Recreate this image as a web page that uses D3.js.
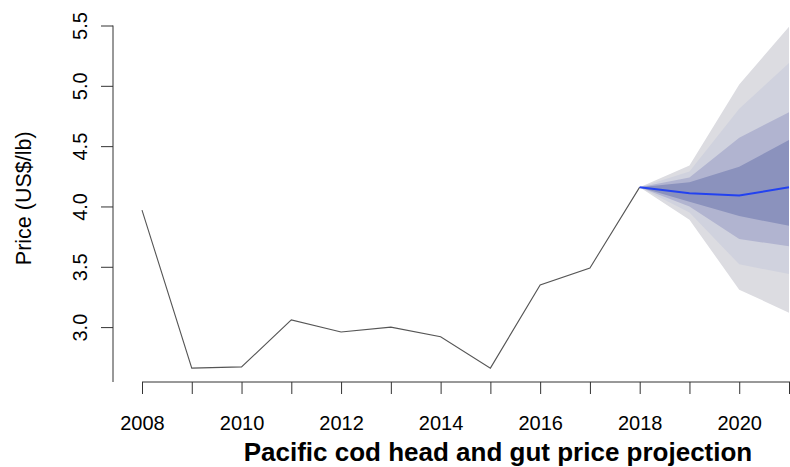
<!DOCTYPE html>
<html>
<head>
<meta charset="utf-8">
<script src="https://cdn.jsdelivr.net/npm/d3@7/dist/d3.min.js"></script>
<style>
  html, body { margin: 0; padding: 0; background: #ffffff; }
  svg { display: block; font-family: "Liberation Sans", Arial, Helvetica, sans-serif; }
</style>
</head>
<body>
<svg id="chart" width="790" height="467"></svg>
<script>
// ---- Data ----
const histYears  = [2008, 2009, 2010, 2011, 2012, 2013, 2014, 2015, 2016, 2017, 2018];
const histPrices = [3.97, 2.66, 2.67, 3.06, 2.96, 3.00, 2.92, 2.66, 3.35, 3.49, 4.16];

const fcYears  = [2018, 2019, 2020, 2021];
const fcMedian = [4.16, 4.11, 4.09, 4.16];
// band bounds (outer -> inner)
const upper95 = [4.16, 4.34, 5.01, 5.49];
const upper80 = [4.16, 4.29, 4.81, 5.19];
const upper60 = [4.16, 4.24, 4.57, 4.78];
const upper40 = [4.16, 4.20, 4.33, 4.55];
const lower40 = [4.16, 4.04, 3.92, 3.84];
const lower60 = [4.16, 4.00, 3.73, 3.67];
const lower80 = [4.16, 3.95, 3.52, 3.44];
const lower95 = [4.16, 3.89, 3.31, 3.12];

const xTicks = [2008, 2009, 2010, 2011, 2012, 2013, 2014, 2015, 2016, 2017, 2018, 2019, 2020, 2021];
const xTickLabels = [2008, 2010, 2012, 2014, 2016, 2018, 2020];
const yTicks = [3.0, 3.5, 4.0, 4.5, 5.0, 5.5];

const yLabel = "Price (US$/lb)";
const xTitle = "Pacific cod head and gut price projection";

// ---- Scales ----
const svg = d3.select("#chart");
const x = d3.scaleLinear().domain([2008, 2021]).range([142, 789]);
const y = d3.scaleLinear().domain([2.545, 5.5]).range([382, 25.5]);

// ---- Fan bands ----
const bandColors = ["#dcdce1", "#d0d2de", "#b1b4d0", "#8b92bd"];
const bands = [
  [upper95, lower95],
  [upper80, lower80],
  [upper60, lower60],
  [upper40, lower40]
];
const area = d3.area()
  .x((d) => x(d.yr))
  .y0((d) => y(d.lo))
  .y1((d) => y(d.hi));
const fanG = svg.append("g");
bands.forEach(([hi, lo], i) => {
  const pts = fcYears.map((yr, j) => ({ yr, hi: hi[j], lo: lo[j] }));
  fanG.append("path")
    .attr("d", area(pts))
    .attr("fill", bandColors[i])
    .attr("stroke", "none");
});

// ---- Lines ----
const line = d3.line().x((d) => x(d[0])).y((d) => y(d[1]));
svg.append("path")
  .attr("d", line(histYears.map((yr, i) => [yr, histPrices[i]])))
  .attr("fill", "none")
  .attr("stroke", "#555555")
  .attr("stroke-width", 1.1);

svg.append("path")
  .attr("d", line(fcYears.map((yr, i) => [yr, fcMedian[i]])))
  .attr("fill", "none")
  .attr("stroke", "#2342f0")
  .attr("stroke-width", 2);

// ---- Axes ----
const xAxis = d3.axisBottom(x)
  .tickValues(xTicks)
  .tickSize(12)
  .tickSizeOuter(0)
  .tickPadding(22)
  .tickFormat((d) => (xTickLabels.includes(d) ? String(d) : ""));
const gx = svg.append("g").attr("transform", "translate(0,382)").call(xAxis);
gx.select(".domain").attr("d", `M${x(2008)},0H790`).attr("stroke", "#333");
gx.selectAll(".tick line").attr("stroke", "#333");
gx.selectAll("text").attr("font-size", 20).attr("fill", "#000")
  .attr("font-family", "Liberation Sans, Arial, sans-serif");

const yAxis = d3.axisLeft(y)
  .tickValues(yTicks)
  .tickSize(12)
  .tickSizeOuter(0)
  .tickFormat(d3.format(".1f"));
const gy = svg.append("g").attr("transform", "translate(113,0)").call(yAxis);
gy.select(".domain").attr("d", `M0,${y(5.5)}V382`).attr("stroke", "#333");
gy.selectAll(".tick line").attr("stroke", "#333");
gy.selectAll(".tick text")
  .attr("x", 0).attr("dy", 0)
  .attr("text-anchor", "middle")
  .attr("transform", "translate(-26,0) rotate(-90)")
  .attr("font-size", 20).attr("fill", "#000")
  .attr("font-family", "Liberation Sans, Arial, sans-serif");

// ---- Labels ----
svg.append("text")
  .attr("transform", `translate(31,${(y(3.0) + y(5.5)) / 2 + 22}) rotate(-90)`)
  .attr("text-anchor", "middle")
  .attr("font-size", 21.5)
  .attr("fill", "#000")
  .text(yLabel);

svg.append("text")
  .attr("x", 498)
  .attr("y", 461)
  .attr("text-anchor", "middle")
  .attr("font-size", 26)
  .attr("font-weight", "bold")
  .attr("fill", "#000")
  .text(xTitle);
</script>
</body>
</html>
